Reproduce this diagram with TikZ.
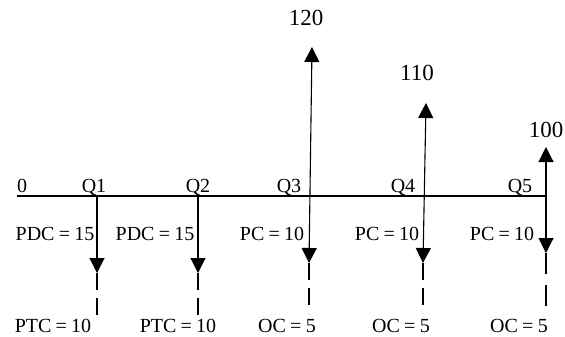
\documentclass[tikz,border=0pt]{standalone}
\usepackage{fontspec}
\setmainfont{Liberation Serif}[WordSpace=0.85]
\usetikzlibrary{arrows.meta}
\begin{document}
\begin{tikzpicture}[x=1pt,y=-1pt,
  lbl/.style={inner sep=0pt,anchor=base,font=\fontsize{20}{22}\selectfont},
  toplbl/.style={inner sep=0pt,anchor=base,font=\fontsize{23}{25}\selectfont},
  flow/.style={line width=1.1pt,-{Triangle[width=15pt,length=15pt]}},
  dflow/.style={line width=1.1pt,{Triangle[width=15pt,length=15pt]}-{Triangle[width=15pt,length=15pt]}},
  tail/.style={line width=1.1pt,dash pattern=on 17pt off 8pt},
  axisline/.style={line width=1.1pt}]
\useasboundingbox (0,0) rectangle (565,337);
% axis
\coordinate (a0) at (17,196);
\coordinate (a5) at (546,196);
\draw[axisline] (a0) -- (a5);
% axis labels
\node[lbl] (l0) at (22,192) {0};
\node[lbl] (q1) at (94,192) {Q1};
\node[lbl] (q2) at (198,192) {Q2};
\node[lbl] (q3) at (289,192) {Q3};
\node[lbl] (q4) at (403,192) {Q4};
\node[lbl] (q5) at (520,192) {Q5};
% coordinates
\coordinate (s1) at (97,196);
\coordinate (b1) at (97,273);
\coordinate (e1) at (97,315);
\coordinate (s2) at (198,196);
\coordinate (b2) at (198,273);
\coordinate (e2) at (198,315);
\coordinate (t3) at (312,47);
\coordinate (b3) at (309,263);
\coordinate (e3) at (309,313);
\coordinate (t4) at (426,103);
\coordinate (b4) at (423,263);
\coordinate (e4) at (423,313);
\coordinate (t5) at (546,147);
\coordinate (b5) at (546,253);
\coordinate (e5) at (546,307);
% arrows
\draw[flow] (s1) -- (b1);
\draw[flow] (s2) -- (b2);
\draw[dflow] (b3) -- (t3);
\draw[dflow] (b4) -- (t4);
\draw[dflow] (b5) -- (t5);
\draw[tail] (b1) -- (e1);
\draw[tail] (b2) -- (e2);
\draw[tail] (b3) -- (e3);
\draw[tail] (b4) -- (e4);
\draw[tail,dash pattern=on 21pt off 11pt] (b5) -- (e5);
% top labels
\node[toplbl] (v3) at (306,26) {120};
\node[toplbl] (v4) at (417,81) {110};
\node[toplbl] (v5) at (546,137) {100};
% middle labels
\node[lbl] (m1) at (55,240) {PDC = 15};
\node[lbl] (m2) at (155,240) {PDC = 15};
\node[lbl] (m3) at (272,240) {PC = 10};
\node[lbl] (m4) at (387,240) {PC = 10};
\node[lbl] (m5) at (502,240) {PC = 10};
% bottom labels
\node[lbl] (p1) at (53,332) {PTC = 10};
\node[lbl] (p2) at (178,332) {PTC = 10};
\node[lbl] (o3) at (287,332) {OC = 5};
\node[lbl] (o4) at (401,332) {OC = 5};
\node[lbl] (o5) at (519,332) {OC = 5};
\end{tikzpicture}
\end{document}
